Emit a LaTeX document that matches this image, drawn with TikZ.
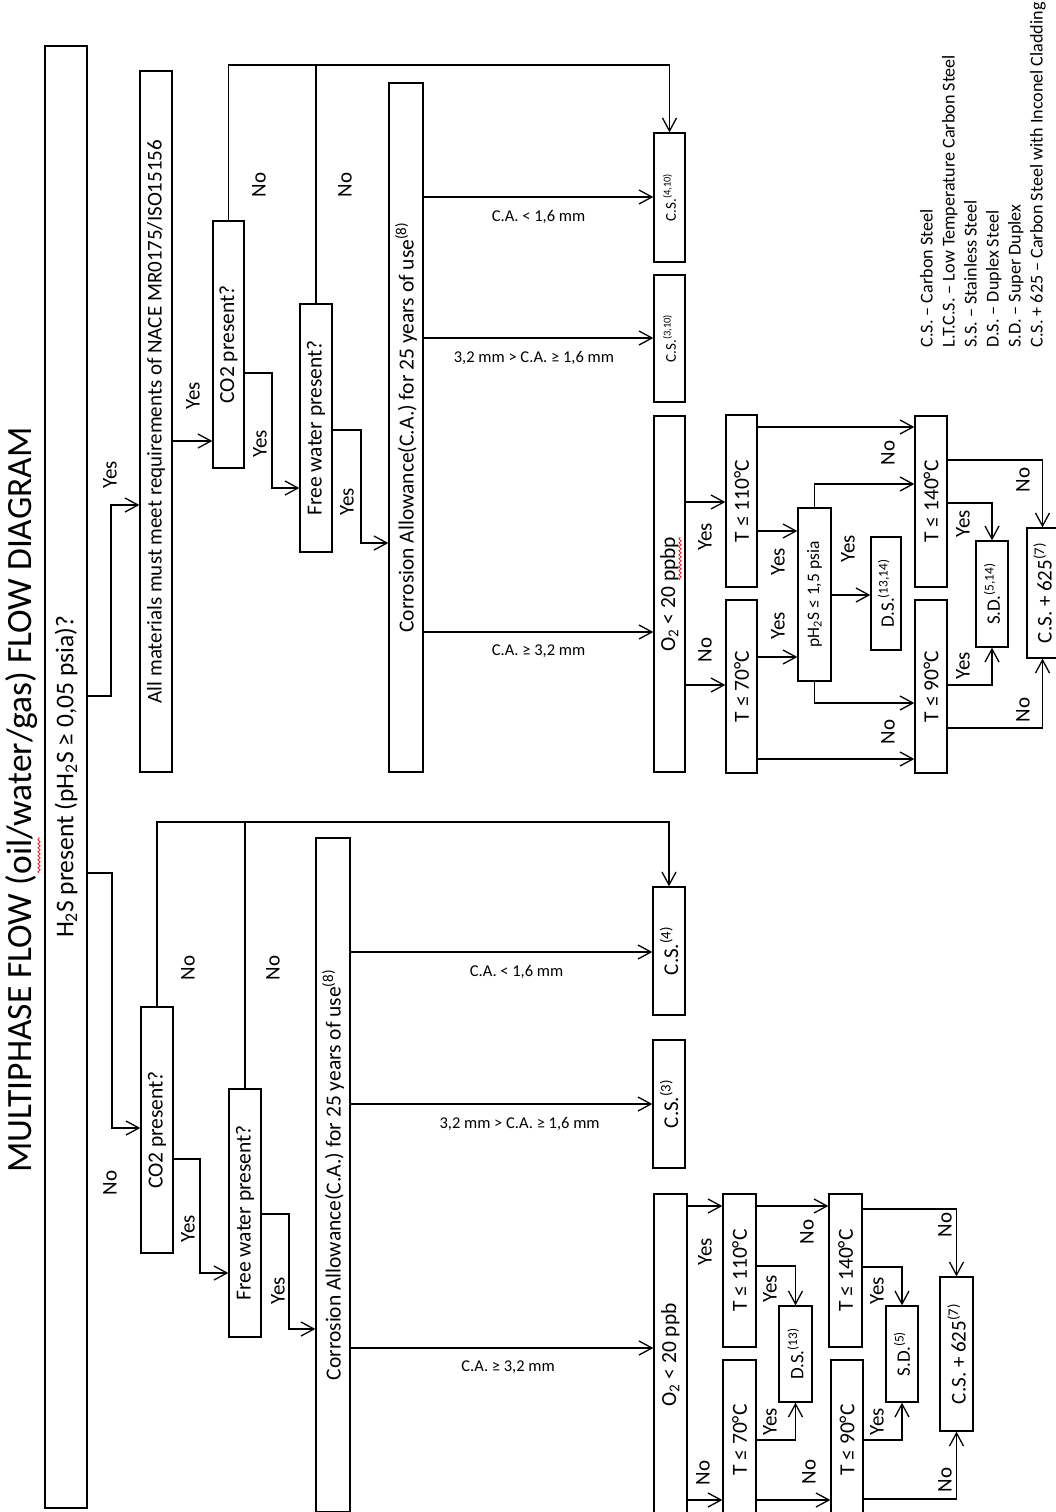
\documentclass[tikz,border=0pt]{standalone}
\usepackage{fontspec}
\setmainfont{Carlito}
\usetikzlibrary{arrows.meta,decorations.pathmorphing}

\begin{document}
\begin{tikzpicture}[x=1pt,y=-1pt,line width=1.3pt,>={Straight Barb[length=13pt,width=14pt]},
  flowbox/.style={draw,rotate=90,inner sep=0pt,font=\fontsize{21.5}{23}\selectfont},
  smalltext/.style={font=\fontsize{15}{17}\selectfont},
  midtext/.style={font=\fontsize{19}{21}\selectfont},
  yn/.style={rotate=90,inner sep=0pt,font=\fontsize{21}{23}\selectfont},
  calbl/.style={inner sep=0pt,yshift=-19.5pt,font=\fontsize{16.5}{18}\selectfont},
  squiggle/.style={red,line width=0.7pt,decorate,decoration={snake,amplitude=1.2pt,segment length=4pt}}]
\useasboundingbox (0,0) rectangle (1056,1512);
\clip (0,0) rectangle (1056,1512);
% ---------- title and first question ----------
\node[rotate=90,inner sep=0pt,font=\fontsize{35.5}{38}\selectfont] (title) at (22,800)
  {MULTIPHASE FLOW (oil/water/gas) FLOW DIAGRAM};
\draw[squiggle] (39,873) -- (39,837);
\node[flowbox,minimum width=1462pt,minimum height=42pt,font=\fontsize{25.5}{27}\selectfont] (h2s) at (66,777)
  {H\textsubscript{2}S present (pH\textsubscript{2}S ≥ 0,05 psia)?};
% ---------- H2S present: yes ----------
\node[flowbox,font=\fontsize{21}{23}\selectfont,minimum width=701pt,minimum height=32pt] (allmat) at (156,421.5)
  {All materials must meet requirements of NACE MR0175/ISO15156};
\node[flowbox,minimum width=247pt,minimum height=31pt] (co2y) at (228.5,344.5) {CO2 present?};
\node[flowbox,minimum width=248pt,minimum height=32pt] (fwy) at (316,428) {Free water present?};
\node[flowbox,minimum width=689pt,minimum height=34pt] (cay) at (406,427.5)
  {Corrosion Allowance(C.A.) for 25 years of use\textsuperscript{(8)}};
\node[flowbox,smalltext,minimum width=129pt,minimum height=31pt] (cs410) at (669.5,197.5) {C.S.\textsuperscript{(4,10)}};
\node[flowbox,smalltext,minimum width=127pt,minimum height=31pt] (cs310) at (669.5,338.5) {C.S.\textsuperscript{(3,10)}};
\node[flowbox,minimum width=356pt,minimum height=31pt] (o2y) at (669.5,594) {O\textsubscript{2} < 20 ppbp};
\draw[squiggle] (680,580) -- (680,537);
\node[flowbox,minimum width=172pt,minimum height=31pt] (t110y) at (741.5,501) {T ≤ 110°C};
\node[flowbox,minimum width=173pt,minimum height=31pt] (t70y) at (741.5,686.5) {T ≤ 70°C};
\node[flowbox,font=\fontsize{17.5}{19}\selectfont,minimum width=173pt,minimum height=33pt] (ph2s) at (814.5,594.5)
  {pH\textsubscript{2}S ≤ 1,5 psia};
\node[flowbox,midtext,minimum width=113pt,minimum height=30pt] (ds1314) at (886,593.5) {D.S.\textsuperscript{(13,14)}};
\node[flowbox,minimum width=171pt,minimum height=32pt] (t140y) at (931,501.5) {T ≤ 140°C};
\node[flowbox,minimum width=173pt,minimum height=32pt] (t90y) at (931,686.5) {T ≤ 90°C};
\node[flowbox,midtext,minimum width=106pt,minimum height=32pt] (sd514) at (992,594) {S.D.\textsuperscript{(5,14)}};
\node[flowbox,font=\fontsize{21}{23}\selectfont,minimum width=130pt,minimum height=31pt] (cs625y) at (1042.5,593)
  {C.S. + 625\textsuperscript{(7)}};
% ---------- H2S present: no ----------
\node[flowbox,minimum width=246pt,minimum height=32pt] (co2n) at (157,1130) {CO2 present?};
\node[flowbox,minimum width=248pt,minimum height=32pt] (fwn) at (245,1213) {Free water present?};
\node[flowbox,minimum width=674pt,minimum height=34pt] (can) at (333,1175)
  {Corrosion Allowance(C.A.) for 25 years of use\textsuperscript{(8)}};
\node[flowbox,font=\fontsize{21}{23}\selectfont,minimum width=128pt,minimum height=32pt] (cs4) at (669,951) {C.S.\textsuperscript{(4)}};
\node[flowbox,font=\fontsize{21}{23}\selectfont,minimum width=128pt,minimum height=32pt] (cs3) at (669,1104) {C.S.\textsuperscript{(3)}};
\node[flowbox,minimum width=322pt,minimum height=33pt] (o2n) at (670.5,1355) {O\textsubscript{2} < 20 ppb};
\node[flowbox,minimum width=153pt,minimum height=33pt] (t110n) at (739.5,1270.5) {T ≤ 110°C};
\node[flowbox,minimum width=160pt,minimum height=33pt] (t70n) at (739.5,1440) {T ≤ 70°C};
\node[flowbox,midtext,minimum width=96pt,minimum height=33pt] (dsn) at (795.5,1354) {D.S.\textsuperscript{(13)}};
\node[flowbox,minimum width=153pt,minimum height=33pt] (t140n) at (845.5,1270.5) {T ≤ 140°C};
\node[flowbox,minimum width=160pt,minimum height=32pt] (t90n) at (847,1440) {T ≤ 90°C};
\node[flowbox,midtext,minimum width=96pt,minimum height=32pt] (sdn) at (902,1354) {S.D.\textsuperscript{(5)}};
\node[flowbox,font=\fontsize{21}{23}\selectfont,minimum width=154pt,minimum height=33pt] (cs625n) at (956.5,1354)
  {C.S. + 625\textsuperscript{(7)}};
% ---------- legend ----------
\node[rotate=90,anchor=west,align=left,inner sep=0pt,font=\fontsize{18.1}{22}\selectfont] (legend) at (983,348)
  {C.S. – Carbon Steel\\L.T.C.S. – Low Temperature Carbon Steel\\S.S. – Stainless Steel\\
   D.S. – Duplex Steel\\S.D. – Super Duplex\\C.S. + 625 – Carbon Steel with Inconel Cladding};
% ---------- connectors: first question ----------
\draw[->] (h2s.south |- 0,696) -| (111,505) -- (allmat.north |- 0,505);
\draw[->] (h2s.south |- 0,873) -| (112,1128) -- (co2n.north |- 0,1128);
% ---------- connectors: yes side ----------
\draw[->] (allmat.south |- 0,441) -- (co2y.north |- 0,441);
\draw[->] (co2y.east) |- (cs410.east |- 0,65) -- (cs410.east);
\draw (fwy.east) -- (fwy.east |- 0,65);
\draw[->] (co2y.south |- 0,373) -| (272,488) -- (fwy.north |- 0,488);
\draw[->] (fwy.south |- 0,430) -| (361,543) -- (cay.north |- 0,543);
\draw[->] (cay.south |- 0,197) -- node[calbl] (ca1) {C.A. < 1,6 mm} (cs410.north |- 0,197);
\draw[->] (cay.south |- 0,338) -- node[calbl,pos=.48] (ca2) {3,2 mm > C.A. ≥ 1,6 mm} (cs310.north |- 0,338);
\draw[->] (cay.south |- 0,632) -- node[calbl] (ca3) {C.A. ≥ 3,2 mm} (o2y.north |- 0,632);
\draw[->] (o2y.south |- 0,502) -- (t110y.north |- 0,502);
\draw[->] (o2y.south |- 0,685) -- (t70y.north |- 0,685);
\draw[->] (t110y.south |- 0,427) -- (t140y.north |- 0,427);
\draw[->] (t110y.south |- 0,531) -- (ph2s.north |- 0,531);
\draw[->] (t70y.south |- 0,657) -- (ph2s.north |- 0,657);
\draw[->] (t70y.south |- 0,759) -- (t90y.north |- 0,759);
\draw[->] (ph2s.east) |- (t140y.north |- 0,484);
\draw[->] (ph2s.west) |- (t90y.north |- 0,703);
\draw[->] (ph2s.south |- 0,595) -- (ds1314.north |- 0,595);
\draw[->] (t140y.south |- 0,503) -| (sd514.east);
\draw[->] (t90y.south |- 0,685) -| (sd514.west);
\draw[->] (t140y.south |- 0,460) -| (cs625y.east);
\draw[->] (t90y.south |- 0,728) -| (cs625y.west);
% ---------- connectors: no side ----------
\draw[->] (co2n.east) |- (cs4.east |- 0,822) -- (cs4.east);
\draw (fwn.east) -- (fwn.east |- 0,822);
\draw[->] (co2n.south |- 0,1159) -| (200,1273) -- (fwn.north |- 0,1273);
\draw[->] (fwn.south |- 0,1214) -| (289,1329) -- (can.north |- 0,1329);
\draw[->] (can.south |- 0,952) -- node[calbl,pos=.55] (ca4) {C.A. < 1,6 mm} (cs4.north |- 0,952);
\draw[->] (can.south |- 0,1104) -- node[calbl,pos=.56] (ca5) {3,2 mm > C.A. ≥ 1,6 mm} (cs3.north |- 0,1104);
\draw[->] (can.south |- 0,1348) -- node[calbl,pos=.52] (ca6) {C.A. ≥ 3,2 mm} (o2n.north |- 0,1348);
\draw[->] (o2n.south |- 0,1206) -- (t110n.north |- 0,1206);
\draw[->] (o2n.south |- 0,1500) -- (t70n.north |- 0,1500);
\draw[->] (t110n.south |- 0,1206) -- (t140n.north |- 0,1206);
\draw[->] (t110n.south |- 0,1266) -| (dsn.east);
\draw[->] (t70n.south |- 0,1440) -| (dsn.west);
\draw[->] (t70n.south |- 0,1500) -- (t90n.north |- 0,1500);
\draw[->] (t140n.south |- 0,1267) -| (sdn.east);
\draw[->] (t90n.south |- 0,1440) -| (sdn.west);
\draw[->] (t140n.south |- 0,1209) -| (cs625n.east);
\draw[->] (t90n.south |- 0,1499) -| (cs625n.west);
% ---------- yes / no labels ----------
\node[yn] (y1) at (110,475) {Yes};
\node[yn] (n1) at (110,1183) {No};
\node[yn] (y2) at (193,396) {Yes};
\node[yn] (n2) at (259,185) {No};
\node[yn] (y3) at (260,444) {Yes};
\node[yn] (n3) at (345,185) {No};
\node[yn] (y4) at (347,502) {Yes};
\node[yn] (n4) at (188,968) {No};
\node[yn] (n5) at (273,968) {No};
\node[yn] (y5) at (188,1229) {Yes};
\node[yn] (y6) at (278,1291) {Yes};
\node[yn] (y7) at (705,537) {Yes};
\node[yn] (n6) at (705,650) {No};
\node[yn] (y8) at (778,562) {Yes};
\node[yn] (y9) at (778,626) {Yes};
\node[yn] (n7) at (888,453) {No};
\node[yn] (n8) at (888,732) {No};
\node[yn] (y10) at (848,549) {Yes};
\node[yn] (y11) at (963,524) {Yes};
\node[yn] (y12) at (963,666) {Yes};
\node[yn] (n9) at (1023,480) {No};
\node[yn] (n10) at (1023,710) {No};
\node[yn] (y13) at (705,1252) {Yes};
\node[yn] (n11) at (703,1473) {No};
\node[yn] (n12) at (807,1232) {No};
\node[yn] (y14) at (770,1289) {Yes};
\node[yn] (y15) at (770,1422) {Yes};
\node[yn] (n13) at (809,1472) {No};
\node[yn] (y16) at (877,1291) {Yes};
\node[yn] (y17) at (877,1422) {Yes};
\node[yn] (n14) at (945,1225) {No};
\node[yn] (n15) at (945,1480) {No};
\end{tikzpicture}
\end{document}
